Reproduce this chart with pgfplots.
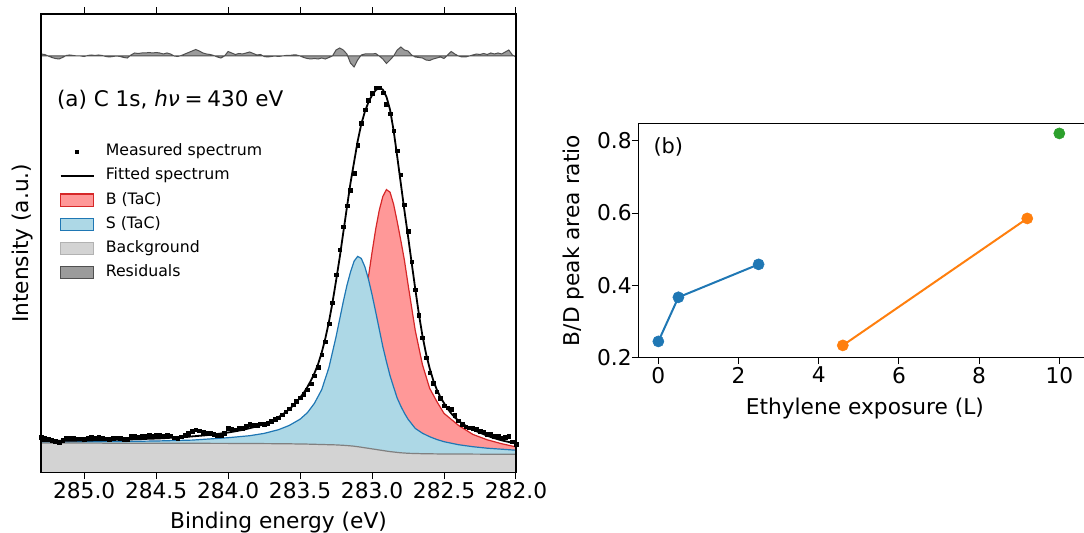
\documentclass[border=0pt]{standalone}
\usepackage{fontspec}
\setmainfont{DejaVu Sans}[ItalicFont={DejaVu Sans Oblique},BoldFont={DejaVu Sans Bold}]
\usepackage{pgfplots}
\usepackage{pgfplotstable}
\pgfplotsset{compat=1.18}
\definecolor{tabblue}{RGB}{31,119,180}
\definecolor{tabred}{RGB}{214,39,40}
\definecolor{taborange}{RGB}{255,127,14}
\definecolor{tabgreen}{RGB}{44,160,44}
\definecolor{bfill}{RGB}{255,152,152}
\definecolor{sfill}{RGB}{173,216,230}
\definecolor{bgfill}{RGB}{211,211,211}
\definecolor{bgedge}{RGB}{128,128,128}
\definecolor{resfill}{RGB}{155,155,155}
\definecolor{resedge}{RGB}{80,80,80}

% components (heights in bp above the axis bottom): background, bg+S, bg+B
\pgfplotstableread{
E bg S B
285.300 29.6 30.6 30.4
285.000 29.6 30.9 30.6
284.750 29.5 31.2 30.8
284.500 29.5 31.7 31.2
284.250 29.4 32.6 31.8
284.000 29.3 35.0 33.1
283.850 29.2 37.0 34.4
283.750 29.1 39.3 35.9
283.650 29.0 43.0 38.3
283.575 28.9 47.3 41.4
283.500 28.7 53.5 44.9
283.450 28.6 59.9 47.5
283.400 28.4 69.5 51.5
283.350 28.2 83.0 56.2
283.300 28.0 105.0 63.4
283.250 27.8 136.0 72.3
283.200 27.4 171.0 85.0
283.175 27.15 187.0 94.0
283.150 26.85 200.5 105.5
283.125 26.5 211.5 118.2
283.100 26.0 216.3 134.7
283.075 25.5 214.3 152.5
283.050 24.9 206.0 171.6
283.025 24.4 193.5 196.0
283.000 23.8 178.0 220.3
282.975 23.3 161.0 243.3
282.950 22.7 143.5 262.4
282.925 22.2 126.0 276.3
282.900 21.6 111.0 283.1
282.875 21.1 97.0 280.5
282.850 20.7 85.5 268.3
282.825 20.3 74.5 250.9
282.800 19.9 66.5 232.1
282.775 19.7 59.5 212.3
282.750 19.4 53.5 188.4
282.700 19.2 44.3 142.3
282.650 19.0 39.5 108.1
282.600 18.9 36.0 84.4
282.550 18.8 33.2 71.2
282.500 18.7 31.0 59.3
282.400 18.6 28.0 47.4
282.300 18.6 26.0 38.3
282.200 18.5 24.5 32.9
282.100 18.5 23.5 29.0
282.000 18.5 22.5 25.8
}\comp

% fit, measured data, residual
\pgfplotstableread{
E fit data r
282.000 29.2 28.2 -1
282.025 29.9 30.9 1
282.050 30.7 36.7 6
282.075 31.5 35.5 4
282.100 32.4 34.4 2
282.125 33.4 36.4 3
282.150 34.5 36.5 2
282.175 35.7 38.7 3
282.200 37.0 38.5 1.5
282.225 38.5 41.0 2.5
282.250 40.0 41.5 1.5
282.275 41.5 43.5 2
282.300 43.2 44.2 1
282.325 45.0 45.0 0
282.350 47.0 46.0 -1
282.375 49.3 48.3 -1
282.400 52.0 52.0 0
282.425 55.3 57.3 2
282.450 59.3 63.8 4.5
282.475 64.0 65.0 1
282.500 69.5 67.0 -2.5
282.525 75.5 74.5 -1
282.550 83.0 81.0 -2
282.575 92.5 89.5 -3
282.600 104.5 100.0 -4.5
282.625 119.0 115.0 -4
282.650 137.0 135.0 -2
282.675 159.0 157.5 -1.5
282.700 184.0 183.0 -1
282.725 210.0 211.0 1
282.750 236.5 241.5 5
282.775 262.0 268.0 6
282.800 289.0 298.0 9
282.825 316.0 322.0 6
282.850 342.0 342.0 0
282.875 363.0 359.0 -4
282.900 376.0 368.5 -7.5
282.925 383.0 380.0 -3
282.950 385.0 385.0 0
282.975 382.5 385.0 2.5
283.000 377.5 379.5 2
283.025 370.5 372.5 2
283.050 361.0 363.0 2
283.075 348.5 349.5 1
283.100 331.5 327.5 -4
283.125 310.5 299.5 -11
283.150 289.5 282.5 -7
283.175 265.0 267.0 2
283.200 240.0 246.0 6
283.225 215.0 223.0 8
283.250 192.0 198.0 6
283.275 170.0 170.0 0
283.300 150.5 149.0 -1.5
283.325 134.0 131.0 -3
283.350 120.0 118.0 -2
283.375 108.5 105.5 -3
283.400 99.5 97.0 -2.5
283.425 92.0 89.0 -3
283.450 85.5 83.0 -2.5
283.475 79.8 78.3 -1.5
283.500 75.0 75.0 0
283.525 70.8 71.8 1
283.550 67.0 68.0 1
283.575 63.5 64.0 0.5
283.600 60.5 61.0 0.5
283.625 57.9 57.9 0
283.650 55.6 55.1 -0.5
283.675 53.6 53.6 0
283.700 51.8 51.3 -0.5
283.725 50.2 49.2 -1
283.750 48.8 48.3 -0.5
283.775 47.5 49.0 1.5
283.800 46.4 47.4 1
283.825 45.4 47.9 2.5
283.850 44.5 48.5 4
283.875 43.6 46.6 3
283.900 42.8 44.8 2
283.925 42.1 44.6 2.5
283.950 41.4 42.9 1.5
283.975 40.8 43.8 3
284.000 40.2 44.7 4.5
284.025 39.7 39.7 0
284.050 39.2 37.2 -2
284.075 38.7 37.7 -1
284.100 38.3 38.8 0.5
284.125 37.9 39.4 1.5
284.150 37.5 39.5 2
284.175 37.2 40.2 3
284.200 36.9 41.9 5
284.225 36.6 43.1 6.5
284.250 36.3 41.3 5
284.275 36.0 39.5 3.5
284.300 35.8 37.8 2
284.325 35.5 36.0 0.5
284.350 35.3 34.8 -0.5
284.375 35.1 35.1 0
284.400 34.9 36.9 2
284.425 34.7 37.7 3
284.450 34.5 36.5 2
284.475 34.3 37.3 3
284.500 34.2 37.7 3.5
284.525 34.0 37.0 3
284.550 33.9 37.4 3.5
284.575 33.8 36.8 3
284.600 33.6 36.6 3
284.625 33.5 36.0 2.5
284.650 33.4 36.4 3
284.675 33.3 36.3 1
284.700 33.2 33.2 -2
284.725 33.1 33.6 -1.5
284.750 33.0 34.5 -0.5
284.775 32.9 34.9 0
284.800 32.8 34.3 -0.5
284.825 32.7 33.7 -1
284.850 32.6 34.1 -0.5
284.875 32.5 35.0 0.5
284.900 32.5 35.5 1
284.925 32.4 34.9 0.5
284.950 32.3 35.3 1
284.975 32.3 34.8 0.5
285.000 32.2 33.7 -0.5
285.025 32.1 34.1 0
285.050 32.1 34.1 0
285.075 32.0 34.5 0.5
285.100 32.0 35.0 1
285.125 31.9 34.4 0.5
285.150 31.9 32.4 -1.5
285.175 31.8 30.8 -3
285.200 31.8 31.3 -2.5
285.225 31.7 32.2 -1.5
285.250 31.7 33.7 0
285.275 31.6 35.1 1.5
285.300 31.6 35.6 2
}\fine

\newcommand{\bigfnt}{\fontsize{21.8}{26}\selectfont}
\newcommand{\legfnt}{\fontsize{15.8}{19}\selectfont}

\begin{document}
\begin{tikzpicture}
\useasboundingbox (0bp,0bp) rectangle (1084bp,533bp);
% ---------------- (a) ----------------
\begin{axis}[
  at={(41bp,60.3bp)}, anchor=south west, scale only axis,
  width=475bp, height=458.7bp,
  xmin=282, xmax=285.3, x dir=reverse, ymin=0, ymax=458.7,
  axis on top,
  axis line style={line width=1.1bp, black},
  xtick={282,282.5,283,283.5,284,284.5,285},
  xticklabel={\pgfmathprintnumber[fixed,fixed zerofill,precision=1]{\tick}},
  /pgf/number format/assume math mode=true,
  ytick=\empty,
  xtick pos=both, xticklabel pos=lower,
  tick align=outside, major tick length=6.5bp,
  tick style={line width=1bp, black},
  tick label style={font=\bigfnt},
  xticklabel style={anchor=north, inner sep=0pt, yshift=-2.5bp},
  xlabel={Binding energy (eV)}, ylabel={Intensity (a.u.)},
  every axis x label/.style={at={(axis description cs:0.5,0)}, anchor=base, yshift=-55.3bp, font=\bigfnt},
  every axis y label/.style={at={(axis description cs:-0.038,0.5)}, anchor=center, rotate=90, font=\bigfnt},
  legend style={at={(axis cs:285.172,328.6)}, anchor=north west, draw=none, fill=none,
    inner sep=0pt, row sep=9.2bp, column sep=11bp, font=\legfnt,
    nodes={inner sep=0pt, text height=11.5bp, text depth=3.5bp}},
  legend cell align=left,
]
\addplot[draw=none, fill=bfill, forget plot] table[x=E,y=B]{\comp} \closedcycle;
\addplot[tabred, line width=1.2bp, forget plot] table[x=E,y=B]{\comp};
\addplot[draw=none, fill=sfill, forget plot] table[x=E,y=S]{\comp} \closedcycle;
\addplot[tabblue, line width=1.2bp, forget plot] table[x=E,y=S]{\comp};
\addplot[draw=none, fill=bgfill, forget plot] table[x=E,y=bg]{\comp} \closedcycle;
\addplot[bgedge, line width=1.2bp, forget plot] table[x=E,y=bg]{\comp};
\addplot[fill=resfill, draw=resedge, line width=1bp, forget plot] table[x=E,y expr=\thisrow{r}+416.7]{\fine} -- (axis cs:285.3,416.7) -- (axis cs:282,416.7) -- cycle;
\addplot[black, line width=1.8bp, forget plot] table[x=E,y=fit]{\fine};
\addplot[only marks, mark=square*, mark size=1.85bp, black, forget plot] table[x=E,y=data]{\fine};

\addlegendimage{draw=none, fill=none, no markers, legend image code/.code={\path[draw=none, fill=none] (0bp,-6.15bp) rectangle (33.4bp,6.15bp); \path[draw=none, fill=black] (14.9bp,-1.75bp) rectangle (18.5bp,1.75bp);}}
\addlegendentry{Measured spectrum}
\addlegendimage{no markers, legend image code/.code={\draw[black, line width=1.8bp] (0bp,0bp) -- (33.4bp,0bp);}}
\addlegendentry{Fitted spectrum}
\addlegendimage{no markers, legend image code/.code={\draw[tabred, fill=bfill, line width=1.1bp] (0bp,-6.15bp) rectangle (33.4bp,6.15bp);}}
\addlegendentry{B (TaC)}
\addlegendimage{no markers, legend image code/.code={\draw[tabblue, fill=sfill, line width=1.1bp] (0bp,-6.15bp) rectangle (33.4bp,6.15bp);}}
\addlegendentry{S (TaC)}
\addlegendimage{no markers, legend image code/.code={\draw[black!30, fill=bgfill, line width=1.1bp] (0bp,-6.15bp) rectangle (33.4bp,6.15bp);}}
\addlegendentry{Background}
\addlegendimage{no markers, legend image code/.code={\draw[resedge, fill=resfill, line width=1.1bp] (0bp,-6.15bp) rectangle (33.4bp,6.15bp);}}
\addlegendentry{Residuals}

\node[anchor=base west, inner sep=0pt, font=\fontsize{21.6}{26}\selectfont] at (axis cs:285.19,366.2) {(a) C 1s, \textit{hν}\hspace{0.22em}=\hspace{0.22em}430 eV};
\end{axis}

% ---------------- (b) ----------------
\begin{axis}[
  at={(638.3bp,175.3bp)}, anchor=south west, scale only axis,
  width=453.1bp, height=234.4bp,
  xmin=-0.5, xmax=10.8, ymin=0.2, ymax=0.848,
  axis line style={line width=1.1bp, black},
  xtick={0,2,4,6,8,10}, ytick={0.2,0.4,0.6,0.8},
  yticklabel={\pgfmathprintnumber[fixed,fixed zerofill,precision=1]{\tick}},
  /pgf/number format/assume math mode=true,
  tick pos=left, tick align=outside, major tick length=6.5bp,
  tick style={line width=1bp, black},
  tick label style={font=\bigfnt},
  xticklabel style={anchor=north, inner sep=0pt, yshift=-2.5bp},
  yticklabel style={anchor=east, inner sep=0pt},
  xlabel={Ethylene exposure (L)}, ylabel={B/D peak area ratio},
  every axis x label/.style={at={(axis description cs:0.5,0)}, anchor=base, yshift=-56.6bp, font=\bigfnt},
  every axis y label/.style={at={(axis description cs:-0.142,0.5)}, anchor=center, rotate=90, font=\bigfnt},
]
\addplot[tabblue, line width=2bp, mark=*, mark size=5.6bp, mark options={solid, line width=0.5bp, fill=tabblue, draw=tabblue}] coordinates {(0,0.245) (0.5,0.367) (2.5,0.458)};
\addplot[taborange, line width=2bp, mark=*, mark size=5.6bp, mark options={solid, line width=0.5bp, fill=taborange, draw=taborange}] coordinates {(4.6,0.234) (9.2,0.585)};
\addplot[tabgreen, only marks, mark=*, mark size=5.6bp, mark options={solid, line width=0.5bp, fill=tabgreen, draw=tabgreen}] coordinates {(10,0.820)};
\node[anchor=base west, inner sep=0pt, font=\fontsize{21}{26}\selectfont] at (axis cs:-0.126,0.764) {(b)};
\end{axis}
\end{tikzpicture}
\end{document}
